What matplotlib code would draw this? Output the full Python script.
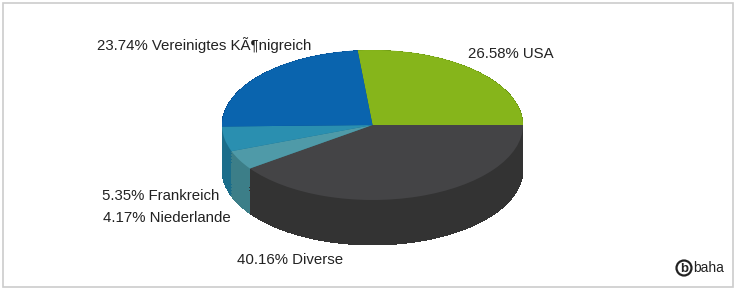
import matplotlib
matplotlib.use("Agg")
import numpy as np
from matplotlib import pyplot as plt
from matplotlib.patches import Rectangle, Circle

# daten (anteile in %)
laender = ["USA", "Diverse", "Niederlande", "Frankreich", "Vereinigtes KÃ¶nigreich"]
anteile = [26.58, 40.16, 4.17, 5.35, 23.74]
farben_oben = ["#86b51b", "#444446", "#4f9aa8", "#2a8fb0", "#0a64ae"]
farben_seite = ["#5f8a12", "#333333", "#3c7e88", "#1b6d8a", "#07488a"]

W, H = 737, 291
fig = plt.figure(figsize=(W / 100, H / 100), dpi=100)

# hintergrund-achse in pixeln (rahmen, texte, logo)
bg = fig.add_axes([0, 0, 1, 1])
bg.set_xlim(0, W)
bg.set_ylim(H, 0)
bg.axis("off")
bg.add_patch(Rectangle((3, 3), 730, 284, fill=False, ec="#cccccc", lw=1.2))

# torte: ellipse x 222..523, y 50..200, tiefe 45 px
px_l, px_r, px_t, px_b = 222, 523, 50, 245
tiefe = 0.6
ax = fig.add_axes([px_l / W, (H - px_b) / H, (px_r - px_l) / W, (px_b - px_t) / H])
start = 3.6 * anteile[0]
for d in np.linspace(tiefe, 0.005, 60):
    ax.pie(anteile, colors=farben_seite, startangle=start, counterclock=False,
           center=(0, -d), wedgeprops=dict(linewidth=0, antialiased=False))
ax.pie(anteile, colors=farben_oben, startangle=start, counterclock=False,
       center=(0, 0), wedgeprops=dict(linewidth=0))
ax.set_aspect("auto")
ax.set_xlim(-1, 1)
ax.set_ylim(-1 - tiefe, 1)
ax.axis("off")

# beschriftungen
schrift = dict(family="Liberation Sans", fontsize=10.85, color="#222222", va="center", ha="left")
pos = {"USA": (468, 53.5), "Diverse": (237, 259.5), "Niederlande": (103, 218.5),
       "Frankreich": (102, 195.5), "Vereinigtes KÃ¶nigreich": (97, 45.5)}
for land, wert in zip(laender, anteile):
    x, y = pos[land]
    bg.text(x, y, f"{wert:.2f}% {land}", **schrift)

# logo
bg.add_patch(Circle((684, 268), 7.5, fill=False, ec="#222222", lw=1.6))
bg.text(684, 268.5, "b", family="Liberation Sans", fontsize=9.5, fontweight="bold",
        color="#222222", ha="center", va="center")
bg.text(693, 268, "baha", family="Liberation Sans", fontsize=10, color="#222222",
        ha="left", va="center")

fig.savefig("out.png", dpi=100)
